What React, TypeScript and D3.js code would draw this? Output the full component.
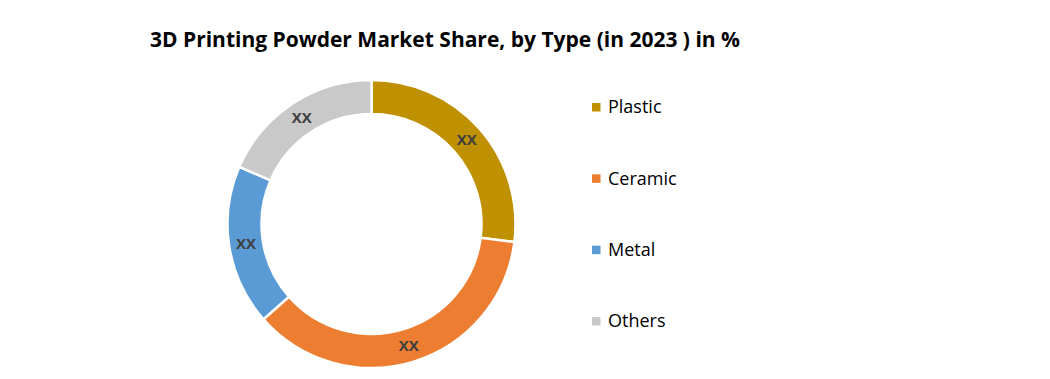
import React from "react";
import * as d3 from "d3";

const categories = ["Plastic", "Ceramic", "Metal", "Others"];
const values = [27, 36.5, 18, 18.5];
const sliceLabels = ["XX", "XX", "XX", "XX"];
const colors = ["#BF9000", "#ED7D31", "#5B9BD5", "#C9C9C9"];
const title = "3D Printing Powder Market Share, by Type (in 2023 ) in %";

export default function App() {
  const W = 1050, H = 379;
  const cx = 371.5, cy = 224, outerR = 144, innerR = 110;
  const pie = d3.pie<number>().sort(null).value((d) => d);
  const arcs = pie(values);
  const arc = d3.arc<d3.PieArcDatum<number>>().innerRadius(innerR).outerRadius(outerR);
  const labelArc = d3.arc<d3.PieArcDatum<number>>().innerRadius(127).outerRadius(127);
  const legendY = d3.scalePoint<string>().domain(categories).range([107, 321]);
  return (
    <svg width={W} height={H} style={{ position: "absolute", left: 0, top: 0, background: "#fff" }}>
      <rect width={W} height={H} fill="#fff" />
      <text x={150} y={47} fontFamily="'Open Sans', sans-serif" fontWeight="bold" fontSize={21}
        textLength={590} lengthAdjust="spacingAndGlyphs" fill="#000">{title}</text>
      <g transform={`translate(${cx},${cy})`}>
        {arcs.map((a, i) => (
          <path key={i} d={arc(a) || ""} fill={colors[i]} stroke="#fff" strokeWidth={2.5} />
        ))}
        {arcs.map((a, i) => {
          const [x, y] = labelArc.centroid(a);
          return (
            <text key={"l" + i} x={x} y={y} dy="0.35em" textAnchor="middle"
              fontFamily="'Open Sans', sans-serif" fontWeight="bold" fontSize={15} fill="#404040">
              {sliceLabels[i]}
            </text>
          );
        })}
      </g>
      {categories.map((c, i) => (
        <g key={c}>
          <rect x={592} y={(legendY(c) as number) - 4} width={8.5} height={8.5} fill={colors[i]} />
          <text x={608} y={legendY(c) as number} dy="0.35em" fontFamily="'Open Sans', sans-serif"
            fontSize={18} fill="#000">{c}</text>
        </g>
      ))}
    </svg>
  );
}
